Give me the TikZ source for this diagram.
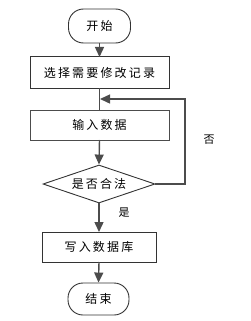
\documentclass[tikz,border=0pt]{standalone}
\usepackage{fontspec}
\newfontfamily\cjk[LetterSpace=18]{Noto Sans CJK SC}
\usetikzlibrary{shapes.geometric,arrows.meta}
\begin{document}
\begin{tikzpicture}[x=1pt,y=-1pt,
  every node/.style={font=\cjk\fontsize{12}{14}\selectfont,inner sep=0pt},
  term/.style={draw=black!80,line width=0.9pt,rounded corners=15pt,minimum width=62pt,minimum height=34pt},
  procbox/.style={draw=black!80,line width=1pt},
  decide/.style={draw=black!80,line width=0.9pt,diamond,aspect=2.9,minimum width=112pt,minimum height=38pt},
  conn/.style={draw=black!70,line width=1.4pt},
  arr/.style={conn,-{Triangle[length=10pt,width=9pt]}},
  lab/.style={font=\cjk\fontsize{11}{13}\selectfont}]
\useasboundingbox (0,0) rectangle (251,321);
\node[term] (start) at (99.5,26) {开始};
\draw[procbox] (30,57) rectangle (169,88);
\node (b1) at (99.5,72.5) {选择需要修改记录};
\draw[procbox,draw=black!70] (30,110) rectangle (169,140);
\node (b2) at (99.5,125) {输入数据};
\node[decide] (dec) at (99,184) {是否合法};
\draw[procbox] (42,232) rectangle (156,262);
\node (b3) at (99,247) {写入数据库};
\node[term,minimum width=61pt,minimum height=32pt] (end) at (98.5,299) {结束};
\coordinate (s1) at (99.5,43);
\coordinate (t1) at (99.5,57);
\coordinate (s2) at (99.5,88);
\coordinate (t2) at (99.5,110);
\coordinate (s3) at (99.5,140);
\coordinate (s4) at (99,203);
\coordinate (t4) at (99,232);
\coordinate (s5) at (99,262);
\coordinate (loopR) at (185,184);
\coordinate (loopT) at (185,99);
\coordinate (loopE) at (100,99);
\draw[arr] (s1) -- (t1);
\draw[conn] (s2) -- (t2);
\draw[arr] (s3) -- (dec.north);
\draw[arr] (dec.south) -- (t4);
\draw[arr] (s5) -- (end.north);
\draw[arr] (dec.east) -- (loopR) -- (loopT) -- (loopE);
\node[lab] (no) at (209,140) {否};
\node[lab] (yes) at (124,213) {是};
\end{tikzpicture}
\end{document}
